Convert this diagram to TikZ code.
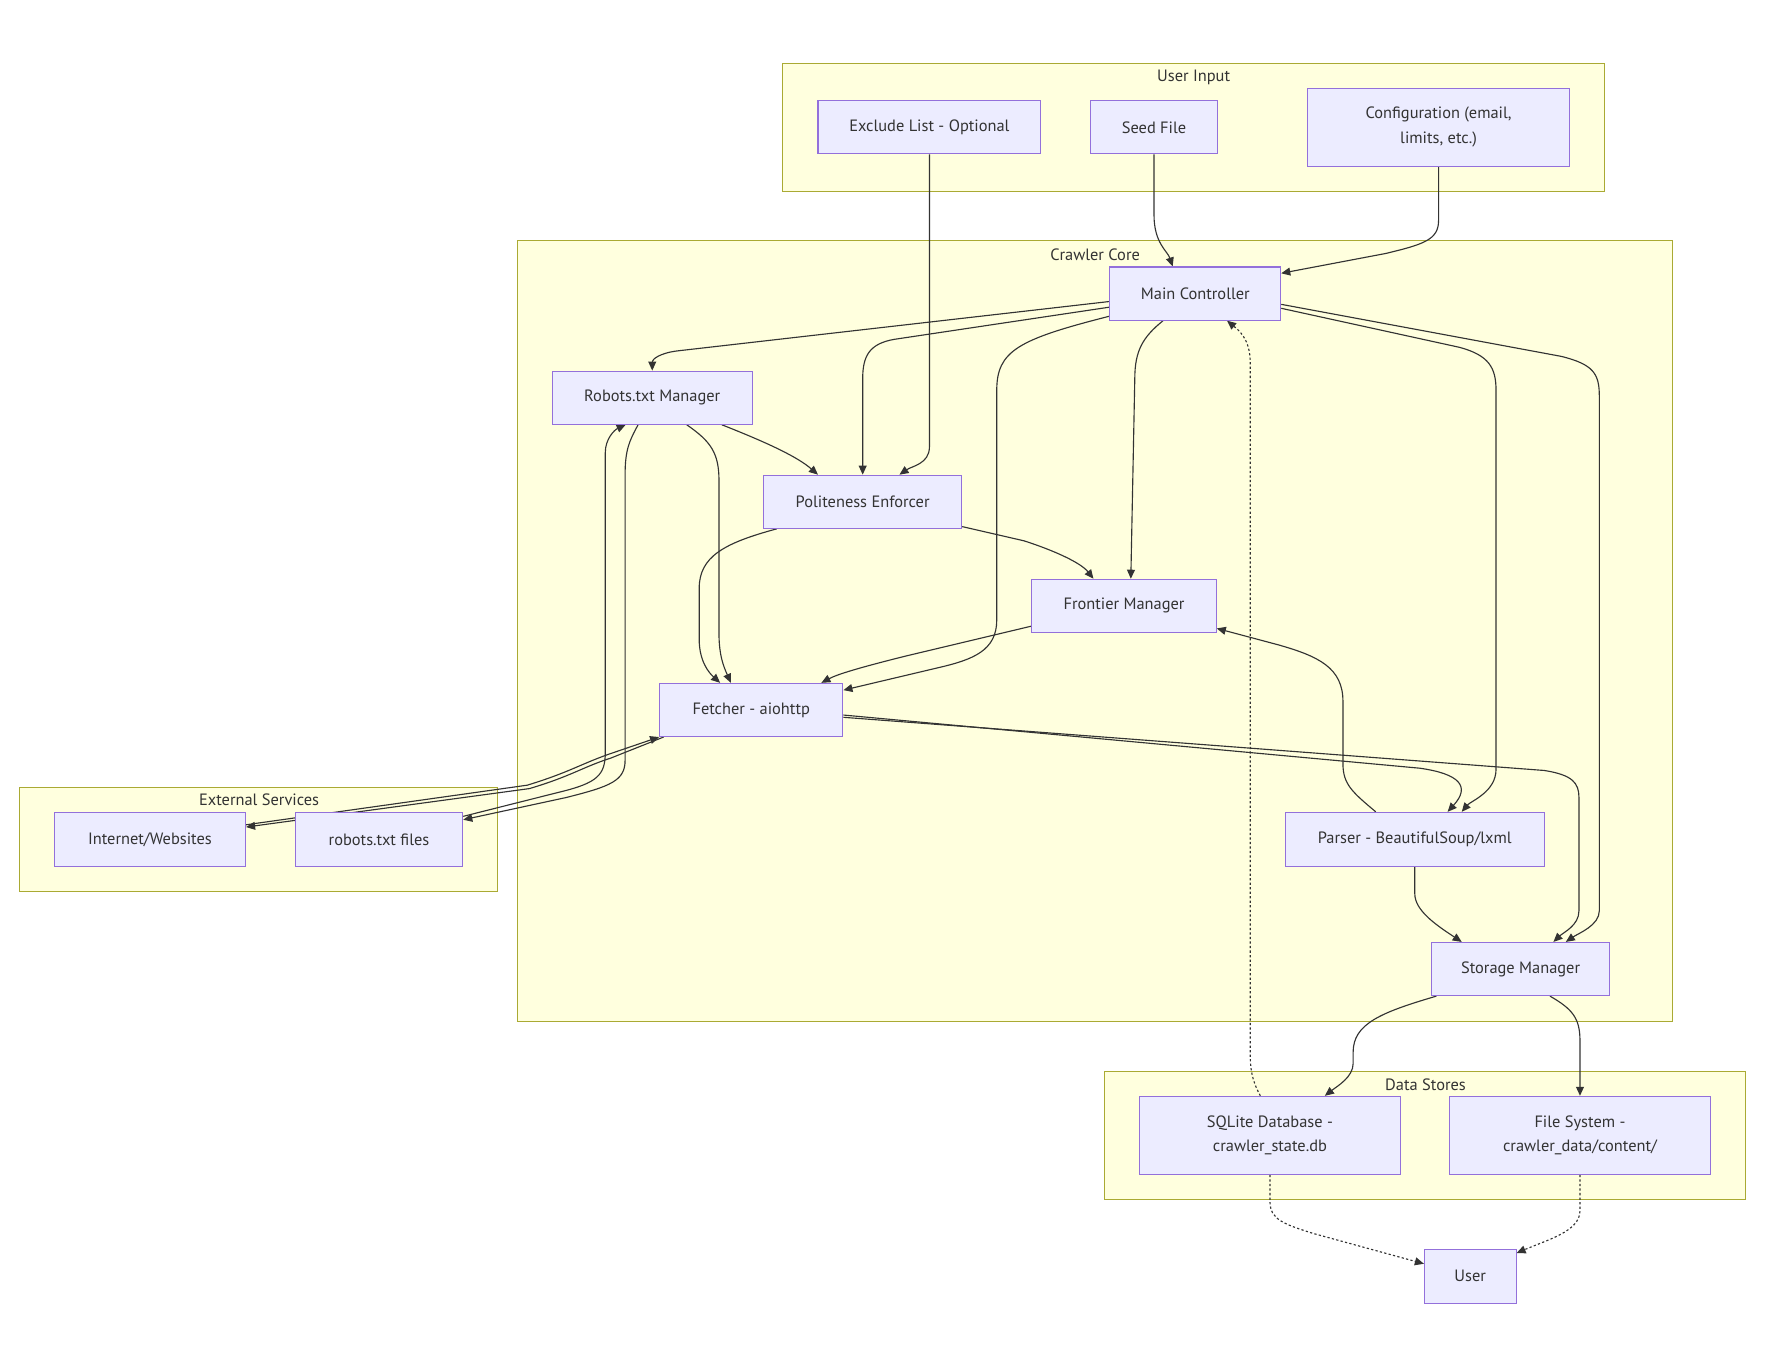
\documentclass[tikz,border=0pt]{standalone}
\usepackage{fontspec}
\setmainfont{PT Sans}
\usetikzlibrary{arrows.meta,calc}
\definecolor{nodefill}{HTML}{ECECFF}
\definecolor{nodeline}{HTML}{9370DB}
\definecolor{clfill}{HTML}{FFFFDE}
\definecolor{clline}{HTML}{AAAA33}
\definecolor{edgec}{HTML}{333333}
\pgfdeclarelayer{bg}
\pgfdeclarelayer{edges}
\pgfsetlayers{bg,edges,main}
\begin{document}
\begin{tikzpicture}[x=1pt,y=-1pt,
  box/.style={draw=nodeline, fill=nodefill, line width=0.9pt, inner sep=0pt, text=edgec, font=\fontsize{14.5}{22}\selectfont, align=center},
  wh/.style 2 args={minimum width=#1pt, minimum height=#2pt},
  cluster/.style={draw=clline, fill=clfill, line width=0.9pt},
  ctitle/.style={text=edgec, font=\fontsize{14.5}{17}\selectfont, inner sep=0pt},
  edge/.style={draw=edgec, line width=1pt, -{Triangle[length=8pt,width=7pt]}},
  dotedge/.style={edge, dash pattern=on 2pt off 2pt},
]
\useasboundingbox (0,0) rectangle (1568,1204);

% clusters
\begin{pgfonlayer}{bg}
\fill[white] (0,0) rectangle (1568,1204);
\draw[cluster] (692,56) rectangle (1418,169);
\draw[cluster] (457,213) rectangle (1478,903);
\draw[cluster] (17,696) rectangle (440,788);
\draw[cluster] (976,947) rectangle (1543,1060);
\end{pgfonlayer}
\node[ctitle] (tui) at (1055,68) {User Input};
\node[ctitle] (tcc) at (968,225) {Crawler Core};
\node[ctitle] (tes) at (229,707) {External Services};
\node[ctitle] (tds) at (1260,959) {Data Stores};

% nodes
\node[box, wh={197}{47}] (excl) at (821.5,112.5) {Exclude List - Optional};
\node[box, wh={112}{47}] (seed) at (1020,112.5) {Seed File};
\node[box, wh={231}{69}] (config) at (1271.5,112.5) {Configuration (email,\\limits, etc.)};
\node[box, wh={151}{47}] (main) at (1056.5,259.5) {Main Controller};
\node[box, wh={177}{47}] (robm) at (576.5,351.5) {Robots.txt Manager};
\node[box, wh={175}{47}] (pol) at (762.5,443.5) {Politeness Enforcer};
\node[box, wh={163}{47}] (front) at (993.5,535.5) {Frontier Manager};
\node[box, wh={162}{47}] (fetch) at (664,627.5) {Fetcher - aiohttp};
\node[box, wh={229}{48}] (parser) at (1250.5,742) {Parser - BeautifulSoup/lxml};
\node[box, wh={158}{47}] (storage) at (1344,856.5) {Storage Manager};
\node[box, wh={169}{48}] (inet) at (132.5,742) {Internet/Websites};
\node[box, wh={148}{48}] (rfiles) at (335,742) {robots.txt files};
\node[box, wh={231}{69}] (sqlite) at (1122.5,1003.5) {SQLite Database -\\crawler\_state.db};
\node[box, wh={231}{69}] (fs) at (1396.5,1003.5) {File System -\\crawler\_data/content/};
\node[box, wh={81}{48}] (user) at (1299.5,1128) {User};

% edges
\begin{pgfonlayer}{edges}
\draw[edge] (seed.south) -- (1020,190) .. controls (1020,215) and (1032,222) .. ($(main.north)+(-20,0)$);
\draw[edge] (config.south) -- (1271.5,195) .. controls (1271.5,212) and (1258,216) .. (1225,224) -- ($(main.north east)+(0,6)$);
\draw[edge] (excl.south) -- (821.5,395) .. controls (821.5,410) and (806,412) .. ($(pol.north)+(32.5,0)$);
\draw[edge] ($(main.west)+(0,7)$) -- (600,310) .. controls (582,312) and (576.5,318) .. (robm.north);
\draw[edge] ($(main.west)+(0,12)$) -- (790,300) .. controls (768,304) and (762.5,315) .. (762.5,335) -- (pol.north);
\draw[edge] ($(main.west)+(0,20)$) .. controls (900,300) and (881,310) .. (881,345) -- (881,548) .. controls (881,575) and (860,583) .. (830,590) -- ($(fetch.east)+(0,-17.5)$);
\draw[edge] ($(main.south)+(-28.5,0)$) .. controls (1010,298) and (1003,310) .. (1003,335) -- ($(front.north)+(6,0)$);
\draw[edge] ($(main.east)+(0,13)$) -- (1290,307) .. controls (1316,314) and (1322.3,325) .. (1322.3,345) -- (1322.3,680) .. controls (1322.3,700) and (1300,708) .. ($(parser.north)+(41.5,0)$);
\draw[edge] ($(main.east)+(0,9.5)$) -- (1380,315) .. controls (1408,322) and (1413.6,330) .. (1413.6,350) -- (1413.6,805) .. controls (1413.6,818) and (1395,825) .. ($(storage.north)+(40,0)$);
\draw[dotedge] ($(sqlite.north)+(-8.5,0)$) .. controls (1106.5,955) and (1105,945) .. (1105,930) -- (1105,320) .. controls (1105,300) and (1095,292) .. ($(main.south)+(28,0)$);
\draw[edge] ($(robm.south)+(61.5,0)$) .. controls (680,392) and (705,404) .. ($(pol.north)+(-39.5,0)$);
\draw[edge] ($(robm.south)+(30.5,0)$) .. controls (628,390) and (635.5,400) .. (635.5,425) -- (635.5,560) .. controls (635.5,580) and (640,590) .. ($(fetch.north)+(-18,0)$);
\draw[edge] ($(pol.south)+(-76,0)$) .. controls (640,480) and (618,492) .. (618,520) -- (618,565) .. controls (618,585) and (627,595) .. ($(fetch.north)+(-27.5,0)$);
\draw[edge] ($(pol.south east)+(0,-2)$) -- (905,478) .. controls (930,486) and (955,497) .. ($(front.north)+(-27,0)$);
\draw[edge] ($(front.south west)+(0,-6)$) -- (800,580) .. controls (760,590) and (740,596) .. ($(fetch.north)+(62,0)$);
\draw[edge] ($(parser.north)+(-34.5,0)$) .. controls (1195,700) and (1187,693) .. (1187,675) -- (1187,620) .. controls (1187,590) and (1165,580) .. (1130,570) -- ($(front.south east)+(0,-4)$);
\draw[edge] ($(fetch.east)+(0,4.5)$) -- (1255,679) .. controls (1290,684) and (1300,695) .. ($(parser.north)+(29,0)$);
\draw[edge] ($(fetch.east)+(0,6.5)$) -- (1365,681) .. controls (1390,685) and (1395.6,692) .. (1395.6,705) -- (1395.6,805) .. controls (1395.6,818) and (1382,824) .. ($(storage.north)+(29,0)$);
\draw[edge] (parser.south) -- (1250.5,790) .. controls (1250.5,805) and (1270,818) .. ($(storage.north)+(-52,0)$);
\draw[edge] ($(storage.south west)+(5,0)$) .. controls (1220,895) and (1196,905) .. (1196,930) -- (1196,940) .. controls (1196,952) and (1182,960) .. ($(sqlite.north)+(48.5,0)$);
\draw[edge] ($(storage.south)+(26,0)$) .. controls (1390,892) and (1396.5,900) .. (1396.5,920) -- (fs.north);
\draw[dotedge] (sqlite.south) -- (1122.5,1062) .. controls (1122.5,1078) and (1135,1082) .. (1160,1090) -- ($(user.west)+(0,-11)$);
\draw[dotedge] (fs.south) -- (1396.5,1070) .. controls (1396.5,1088) and (1370,1095) .. ($(user.north east)+(0,4)$);
\draw[edge] ($(robm.south)+(-12.5,0)$) .. controls (556,390) and (552.5,398) .. (552.5,420) -- (552.5,672) .. controls (552.5,690) and (540,695) .. (500,705) -- ($(rfiles.north east)+(0,7)$);
\draw[edge] ($(rfiles.north east)+(0,4)$) -- (495,700) .. controls (528,692) and (535,685) .. (535,665) -- (535,400) .. controls (535,388) and (543,380) .. ($(robm.south)+(-23.5,0)$);
\draw[edge] ($(fetch.south west)+(4,0)$) -- (540,670) .. controls (515,678) and (505,686) .. (468,697) -- ($(inet.east)+(0,-11)$);
\draw[edge] ($(inet.east)+(0,-13)$) -- (466,694) .. controls (502,683) and (512,676) .. (537,667) -- (fetch.south west);
\end{pgfonlayer}
\end{tikzpicture}
\end{document}
